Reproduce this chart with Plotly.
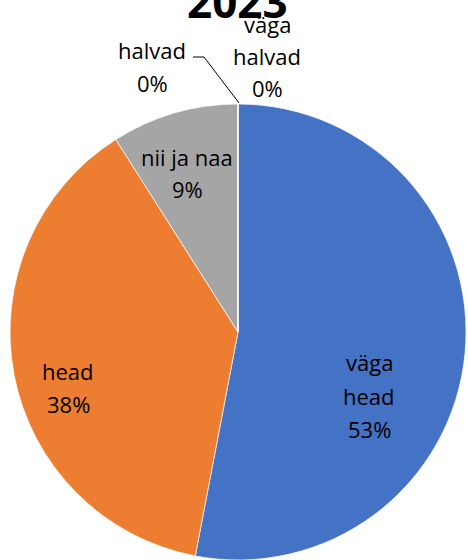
import plotly.graph_objects as go

categories = ["väga head", "head", "nii ja naa", "halvad", "väga halvad"]
values = [53, 38, 9, 0, 0]
colors = ["#4472C4", "#ED7D31", "#A5A5A5", "#FFC000", "#5B9BD5"]
title_text = "2023"

FONT = "Open Sans"
W, H = 468, 560
L, R, T, B = 8, 0, 104, 0
pw, ph = W - L - R, H - T - B


def px(x):
    return (x - L) / pw


def py(y):
    return (H - B - y) / ph


fig = go.Figure(go.Pie(
    labels=categories,
    values=values,
    sort=False,
    direction="clockwise",
    rotation=0,
    marker=dict(colors=colors, line=dict(color="white", width=0.7)),
    textinfo="none",
    hoverinfo="label+percent",
    showlegend=False,
))

fig.update_layout(
    width=W, height=H,
    margin=dict(l=L, r=R, t=T, b=B),
    paper_bgcolor="white",
)

# data label placement (pixel centres of each line), as in the reference
label_lines = {
    "väga head": [(369, 362, "väga"), (369, 396, "head"), (369, 429, f"{values[0]}%")],
    "head": [(68, 371, "head"), (68, 404, f"{values[1]}%")],
    "nii ja naa": [(187, 157, "nii ja naa"), (187, 189, f"{values[2]}%")],
    "halvad": [(152, 50, "halvad"), (152, 83, f"{values[3]}%")],
    "väga halvad": [(267, 24, "väga"), (267, 56, "halvad"), (267, 88, f"{values[4]}%")],
}
for cat, lines in label_lines.items():
    for x, y, t in lines:
        fig.add_annotation(xref="paper", yref="paper", x=px(x), y=py(y),
                           text=t, showarrow=False, xanchor="center", yanchor="middle",
                           font=dict(family=FONT, size=22, color="#000"))

# leader line for the "halvad" label
fig.add_shape(type="path", xref="paper", yref="paper",
              path=f"M {px(193)} {py(57)} L {px(204)} {py(57)} L {px(239)} {py(103)}",
              line=dict(color="#000", width=1))

# title (partly cut off at top, as in the reference)
fig.add_annotation(xref="paper", yref="paper", x=px(237), y=py(1),
                   text=f"<b>{title_text}</b>", showarrow=False,
                   xanchor="center", yanchor="middle",
                   font=dict(family=FONT, size=44, color="#000"))

fig.write_html("out.html", config={"displayModeBar": False},
               post_script="document.body.style.margin='0';document.body.style.overflow='hidden';")
